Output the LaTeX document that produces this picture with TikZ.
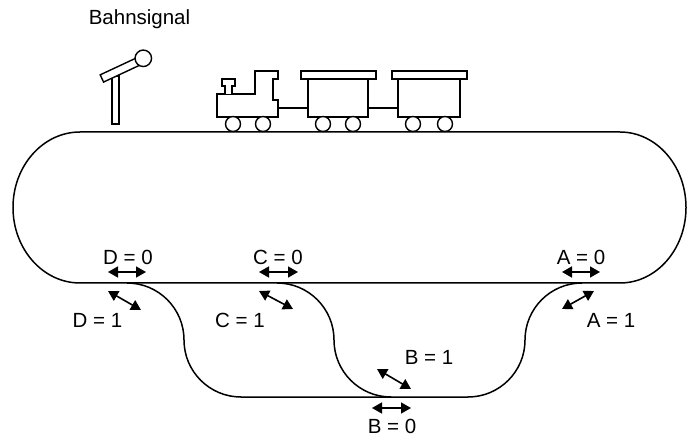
\documentclass[tikz,border=0pt]{standalone}
\usepackage{fontspec}
\setmainfont{Liberation Sans}
\usepackage{tikz}
\usetikzlibrary{arrows.meta, positioning}

\begin{document}
\begin{tikzpicture}[
    x=1pt, y=1pt,
    track/.style={line width=1.5pt, line join=round},
    part/.style={draw, line width=1.4pt, fill=white, line join=miter},
    wheel/.style={draw, line width=1.4pt, fill=white, circle, inner sep=0pt, minimum size=15pt},
    switcharrow/.style={{Triangle[length=10pt,width=11pt]}-{Triangle[length=10pt,width=11pt]}, line width=1.6pt},
    lbl/.style={font=\fontsize{20.5}{24}\selectfont, anchor=base, inner sep=0pt}
]
\useasboundingbox (0,0) rectangle (687,436);

% Gleisoval
\draw[track] (80,304) -- (620,304)
    arc[start angle=90, end angle=-90, x radius=66, y radius=75.5]
    -- (80,153)
    arc[start angle=270, end angle=90, x radius=67, y radius=75.5] -- cycle;

% Ausweichgleis unten (D -> B -> A)
\draw[track] (127,153)
    arc[start angle=90, end angle=0, radius=57]
    arc[start angle=180, end angle=270, radius=57]
    -- (468,39)
    arc[start angle=270, end angle=360, radius=57]
    arc[start angle=180, end angle=90, radius=57];

% Verbindung C -> B
\draw[track] (277,153)
    arc[start angle=90, end angle=0, radius=57]
    arc[start angle=180, end angle=270, radius=57];

% Bahnsignal
\node[lbl] (signal) at (139.5,411) {Bahnsignal};
\draw[part] (112,312) rectangle (119,360);
\node[part, rectangle, rotate=25, minimum width=40pt, minimum height=8pt, inner sep=0pt] (arm) at (120,366) {};
\node[wheel, minimum size=16.5pt] (lamp) at (143.3,377.7) {};

% Lok
\draw[part] (217,319) -- (278,319) -- (278,336) -- (273,336) -- (273,357)
    -- (278,357) -- (278,365) -- (255,365) -- (255,342) -- (217,342) -- cycle;
\draw[part] (225,342) -- (225,350) -- (222,350) -- (222,357) -- (235,357)
    -- (235,350) -- (232,350) -- (232,342);
\node[wheel] (w1) at (233,312) {};
\node[wheel] (w2) at (263,312) {};

% Wagen 1
\draw[part] (308,319) rectangle (368,357);
\draw[part] (301,357) rectangle (376,365);
\node[wheel] (w3) at (323,312) {};
\node[wheel] (w4) at (353,312) {};

% Wagen 2
\draw[part] (398,319) rectangle (460,357);
\draw[part] (392,357) rectangle (467,365);
\node[wheel] (w5) at (413,312) {};
\node[wheel] (w6) at (445,312) {};

% Kupplungen
\draw[line width=1.4pt] (278,328) -- (308,328);
\draw[line width=1.4pt] (368,328) -- (398,328);

% Weichen D, C, A
\draw[switcharrow] (108,164) -- (146,164);
\node[lbl] (d0) at (128,171) {D = 0};
\draw[switcharrow] (108,145) -- (141,126);
\node[lbl] (d1) at (97.5,108) {D = 1};

\draw[switcharrow] (259,164) -- (298,164);
\node[lbl] (c0) at (278,171) {C = 0};
\draw[switcharrow] (259,145) -- (293,127);
\node[lbl] (c1) at (240,108) {C = 1};

\draw[switcharrow] (562,164) -- (600,164);
\node[lbl] (a0) at (581,171) {A = 0};
\draw[switcharrow] (562,127) -- (594,145);
\node[lbl] (a1) at (611,108) {A = 1};

% Weiche B
\draw[switcharrow] (377,67) -- (411,47);
\node[lbl] (b1) at (429,71) {B = 1};
\draw[switcharrow] (372,28) -- (411,28);
\node[lbl] (b0) at (392,3) {B = 0};

\end{tikzpicture}
\end{document}
